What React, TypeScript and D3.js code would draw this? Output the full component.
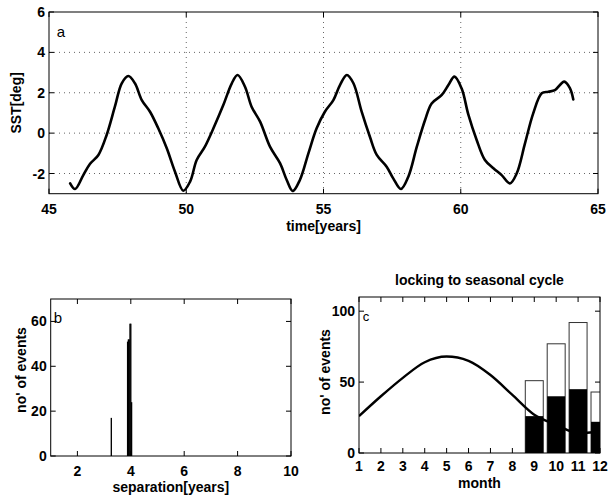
import React from "react";
import * as d3 from "d3";

// Panel a: SST time series
const sstYears = [45.77, 45.95, 46.25, 46.49, 46.8, 47.1, 47.4, 47.65, 47.89, 48.13, 48.38, 48.68, 48.98, 49.29, 49.59, 49.89, 50.14, 50.38, 50.68, 50.99, 51.35, 51.66, 51.87, 52.14, 52.38, 52.69, 53.05, 53.42, 53.66, 53.88, 54.14, 54.45, 54.75, 55.05, 55.36, 55.6, 55.85, 56.09, 56.39, 56.69, 56.94, 57.3, 57.54, 57.82, 58.09, 58.4, 58.7, 58.94, 59.31, 59.55, 59.77, 60.03, 60.28, 60.58, 60.88, 61.19, 61.49, 61.79, 62.04, 62.34, 62.64, 62.95, 63.19, 63.43, 63.77, 63.98, 64.1];
const sstValues = [-2.49, -2.77, -2.08, -1.53, -1.08, -0.09, 1.31, 2.47, 2.83, 2.47, 1.64, 1.06, 0.24, -0.75, -1.91, -2.85, -2.4, -1.33, -0.67, 0.24, 1.39, 2.47, 2.88, 2.3, 1.31, 0.57, -0.67, -1.5, -2.32, -2.87, -2.32, -1.0, 0.24, 1.06, 1.64, 2.38, 2.88, 2.47, 1.06, -0.18, -1.08, -1.66, -2.24, -2.77, -2.16, -0.67, 0.65, 1.47, 1.89, 2.38, 2.8, 2.22, 0.9, -0.34, -1.33, -1.74, -2.08, -2.49, -1.99, -0.51, 0.98, 1.97, 2.05, 2.13, 2.55, 2.22, 1.67];
const aXTicks = [45, 50, 55, 60, 65];
const aYTicks = [-2, 0, 2, 4, 6];

// Panel b: separation histogram
const separations = [3.27, 3.88, 3.91, 3.94, 3.97, 4.0, 4.03];
const sepCounts = [17, 51, 52, 52, 59, 59, 24];
const bXTicks = [2, 4, 6, 8, 10];
const bYTicks = [0, 20, 40, 60];

// Panel c: locking to seasonal cycle
const months = [1, 2, 3, 4, 5, 6, 7, 8, 9, 10, 11, 12];
const seasonalCurve = [26, 40, 53, 64, 68, 65, 55, 41, 27, 20, 14, 15];
const barMonths = [9, 10, 11, 12];
const totalEvents = [51, 77, 92, 43];
const lockedEvents = [26, 40, 45, 22];
const cYTicks = [0, 50, 100];

const FONT = "'Liberation Sans', Arial, Helvetica, sans-serif";

function Frame({ x0, x1, y0, y1, xTicks, yTicks, xs, ys, grid }: any) {
  const tl = 5;
  return (
    <g>
      {grid &&
        xTicks
          .filter((t: number) => xs(t) > x0 + 1 && xs(t) < x1 - 1)
          .map((t: number) => (
            <line key={"gx" + t} x1={xs(t)} x2={xs(t)} y1={y0} y2={y1} stroke="#666" strokeWidth={1} strokeDasharray="1,4" />
          ))}
      {grid &&
        yTicks
          .filter((t: number) => ys(t) > y0 + 1 && ys(t) < y1 - 1)
          .map((t: number) => (
            <line key={"gy" + t} x1={x0} x2={x1} y1={ys(t)} y2={ys(t)} stroke="#666" strokeWidth={1} strokeDasharray="1,4" />
          ))}
      <rect x={x0} y={y0} width={x1 - x0} height={y1 - y0} fill="none" stroke="#000" strokeWidth={1} />
      {xTicks.map((t: number) => (
        <g key={"xt" + t}>
          <line x1={xs(t)} x2={xs(t)} y1={y1} y2={y1 - tl} stroke="#000" />
          <line x1={xs(t)} x2={xs(t)} y1={y0} y2={y0 + tl} stroke="#000" />
        </g>
      ))}
      {yTicks.map((t: number) => (
        <g key={"yt" + t}>
          <line x1={x0} x2={x0 + tl} y1={ys(t)} y2={ys(t)} stroke="#000" />
          <line x1={x1} x2={x1 - tl} y1={ys(t)} y2={ys(t)} stroke="#000" />
        </g>
      ))}
    </g>
  );
}

function TickLabels({ x0, y1, xTicks, yTicks, xs, ys, xOff = 15, yOff = 4 }: any) {
  const st = { fontFamily: FONT, fontSize: 14, fontWeight: "bold" as const };
  return (
    <g>
      {xTicks.map((t: number) => (
        <text key={"xl" + t} x={xs(t)} y={y1 + xOff} textAnchor="middle" dominantBaseline="central" style={st}>
          {t}
        </text>
      ))}
      {yTicks.map((t: number) => (
        <text key={"yl" + t} x={x0 - yOff} y={ys(t)} textAnchor="end" dominantBaseline="central" style={st}>
          {t}
        </text>
      ))}
    </g>
  );
}

export default function App() {
  const labelStyle = { fontFamily: FONT, fontSize: 14, fontWeight: "bold" as const };
  const panelStyle = { fontFamily: FONT, fontSize: 15 };

  // Panel a
  const ax0 = 49, ax1 = 598, ay0 = 12, ay1 = 193.7;
  const axs = d3.scaleLinear().domain([45, 65]).range([ax0, ax1]);
  const ays = d3.scaleLinear().domain([-3, 6]).range([ay1, ay0]);
  const sstPts = sstYears.map((y, i) => [y, sstValues[i]] as [number, number]);
  const sstPath = d3
    .line<[number, number]>()
    .x((d) => axs(d[0]))
    .y((d) => ays(d[1]))
    .curve(d3.curveCatmullRom.alpha(0.5))(sstPts) as string;

  // Panel b
  const bx0 = 50.7, bx1 = 291, by0 = 299, by1 = 456;
  const bxs = d3.scaleLinear().domain([1, 10]).range([bx0, bx1]);
  const bys = d3.scaleLinear().domain([0, 70]).range([by1, by0]);
  const bw = 0.05;

  // Panel c
  const cx0 = 359, cx1 = 600, cy0 = 297, cy1 = 453;
  const cxs = d3.scaleLinear().domain([1, 12]).range([cx0, cx1]);
  const cys = d3.scaleLinear().domain([0, 110]).range([cy1, cy0]);
  const cw = 0.82;
  const cPts = months.map((m, i) => [m, seasonalCurve[i]] as [number, number]);
  const cPath = d3
    .line<[number, number]>()
    .x((d) => cxs(d[0]))
    .y((d) => cys(d[1]))
    .curve(d3.curveMonotoneX)(cPts) as string;

  return (
    <svg width={608} height={498} style={{ position: "absolute", left: 0, top: 0, background: "#fff" }}>
      <rect x={0} y={0} width={608} height={498} fill="#fff" />
      <defs>
        <clipPath id="clipc">
          <rect x={cx0} y={cy0} width={cx1 - cx0} height={cy1 - cy0} />
        </clipPath>
      </defs>

      {/* Panel a */}
      <Frame x0={ax0} x1={ax1} y0={ay0} y1={ay1} xTicks={aXTicks} yTicks={aYTicks} xs={axs} ys={ays} grid={true} />
      <path d={sstPath} fill="none" stroke="#000" strokeWidth={2.6} strokeLinejoin="round" strokeLinecap="round" />
      <TickLabels x0={ax0} y1={ay1} xTicks={aXTicks} yTicks={aYTicks} xs={axs} ys={ays} />
      <text x={61} y={31} textAnchor="middle" dominantBaseline="central" style={panelStyle}>a</text>
      <text x={(ax0 + ax1) / 2} y={ay1 + 32} textAnchor="middle" dominantBaseline="central" style={labelStyle}>time[years]</text>
      <text transform={`translate(16,${(ay0 + ay1) / 2}) rotate(-90)`} textAnchor="middle" dominantBaseline="central" style={labelStyle}>SST[deg]</text>

      {/* Panel b */}
      <Frame x0={bx0} x1={bx1} y0={by0} y1={by1} xTicks={bXTicks} yTicks={bYTicks} xs={bxs} ys={bys} grid={false} />
      {separations.map((s, i) => (
        <rect key={"b" + i} x={bxs(s - bw / 2)} y={bys(sepCounts[i])} width={bxs(s + bw / 2) - bxs(s - bw / 2)} height={by1 - bys(sepCounts[i])} fill="#000" />
      ))}
      <TickLabels x0={bx0} y1={by1} xTicks={bXTicks} yTicks={bYTicks} xs={bxs} ys={bys} />
      <text x={58} y={317} textAnchor="middle" dominantBaseline="central" style={panelStyle}>b</text>
      <text x={(bx0 + bx1) / 2} y={by1 + 31} textAnchor="middle" dominantBaseline="central" style={labelStyle}>separation[years]</text>
      <text transform={`translate(21,${370}) rotate(-90)`} textAnchor="middle" dominantBaseline="central" style={labelStyle}>no' of events</text>

      {/* Panel c */}
      <g clipPath="url(#clipc)">
        {barMonths.map((m, i) => (
          <rect key={"ct" + m} x={cxs(m - cw / 2)} y={cys(totalEvents[i])} width={cxs(m + cw / 2) - cxs(m - cw / 2)} height={cy1 - cys(totalEvents[i])} fill="#fff" stroke="#333" strokeWidth={1} />
        ))}
        {barMonths.map((m, i) => (
          <rect key={"cl" + m} x={cxs(m - cw / 2)} y={cys(lockedEvents[i])} width={cxs(m + cw / 2) - cxs(m - cw / 2)} height={cy1 - cys(lockedEvents[i])} fill="#000" />
        ))}
        <path d={cPath} fill="none" stroke="#000" strokeWidth={2.4} strokeLinejoin="round" />
      </g>
      <Frame x0={cx0} x1={cx1} y0={cy0} y1={cy1} xTicks={months} yTicks={cYTicks} xs={cxs} ys={cys} grid={false} />
      <TickLabels x0={cx0} y1={cy1} xTicks={months} yTicks={cYTicks} xs={cxs} ys={cys} xOff={13} />
      <text x={366} y={316} textAnchor="middle" dominantBaseline="central" style={{ fontFamily: FONT, fontSize: 13 }}>c</text>
      <text x={(cx0 + cx1) / 2} y={cy1 + 30} textAnchor="middle" dominantBaseline="central" style={labelStyle}>month</text>
      <text transform={`translate(325,${372}) rotate(-90)`} textAnchor="middle" dominantBaseline="central" style={labelStyle}>no' of events</text>
      <text x={(cx0 + cx1) / 2} y={280} textAnchor="middle" dominantBaseline="central" style={labelStyle}>locking to seasonal cycle</text>
    </svg>
  );
}
